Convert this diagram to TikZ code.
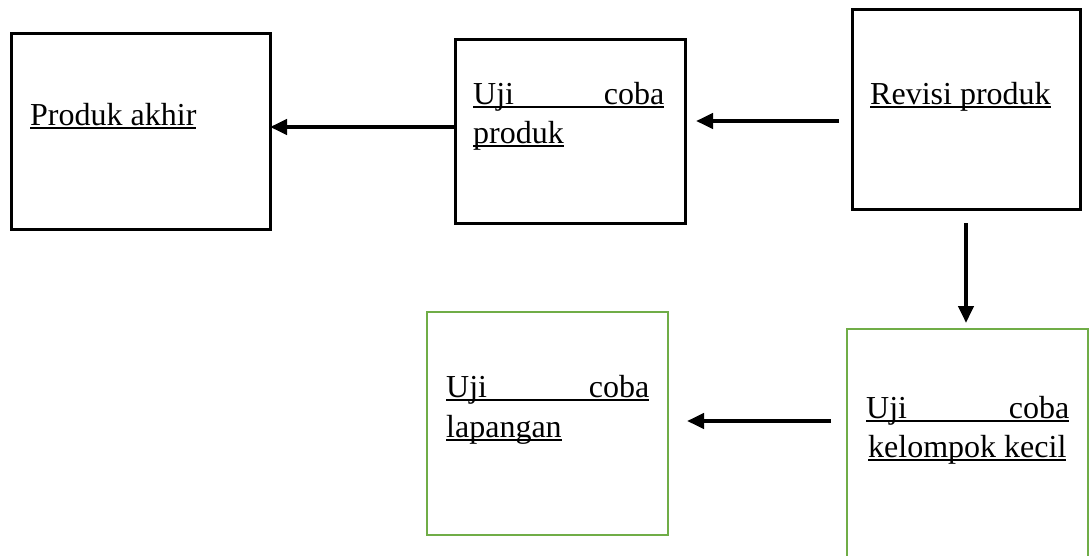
\documentclass[tikz,border=0pt]{standalone}
\usepackage{fontspec}
\setmainfont{Liberation Serif}
\usetikzlibrary{arrows.meta}
\definecolor{boxgreen}{HTML}{70AD47}
\newcommand\myul[1]{\setbox0\hbox{#1}\rlap{\rule[-4pt]{\wd0}{2.3pt}}\box0}
\begin{document}
\begin{tikzpicture}[x=1pt,y=-1pt,
  bbox/.style={draw=black,line width=3pt,inner sep=0pt,outer sep=0pt},
  gbox/.style={draw=boxgreen,line width=2.4pt,inner sep=0pt,outer sep=0pt},
  txt/.style={anchor=base west,inner sep=0pt,font=\fontsize{32pt}{40pt}\selectfont},
  arr/.style={line width=4pt,-{Triangle[length=17pt,width=15pt]}}]
\clip (0,0) rectangle (1089,555);
\fill[white] (0,0) rectangle (1089,555);
% boxes
\node[bbox,minimum width=259pt,minimum height=196pt] (b1) at (140.5,131) {};
\node[bbox,minimum width=230pt,minimum height=184pt] (b2) at (570,131) {};
\node[bbox,minimum width=228pt,minimum height=200pt] (b3) at (966,109) {};
\node[gbox,minimum width=241pt,minimum height=223pt] (b4) at (547.5,423.5) {};
\node[gbox,minimum width=241pt,minimum height=241pt] (b5) at (967.5,449.5) {};
% texts
\node[txt] (t1) at (30,125) {\myul{Produk akhir}};
\node[txt] (t2a) at (473,104) {\myul{\makebox[191pt][s]{Uji coba}}};
\node[txt] (t2b) at (473,143) {\myul{produk}};
\node[txt] (t3) at (870,104) {\myul{Revisi produk}};
\node[txt] (t4a) at (446,397) {\myul{\makebox[203pt][s]{Uji coba}}};
\node[txt] (t4b) at (446,437) {\myul{lapangan}};
\node[txt] (t5a) at (866,418) {\myul{\makebox[203pt][s]{Uji coba}}};
\node[txt] (t5b) at (868,457) {\myul{kelompok kecil}};
% arrows
\draw[arr] (b2.west |- 0,127) -- (b1.east |- 0,127);
\draw[arr,shorten <=13pt,shorten >=11pt] (b3.west |- 0,121) -- (b2.east |- 0,121);
\draw[arr,shorten <=14pt,shorten >=6pt] (b3.south) -- (b3.south |- b5.north);
\draw[arr,shorten <=16pt,shorten >=19pt] (b5.west |- 0,421) -- (b4.east |- 0,421);
\end{tikzpicture}
\end{document}
